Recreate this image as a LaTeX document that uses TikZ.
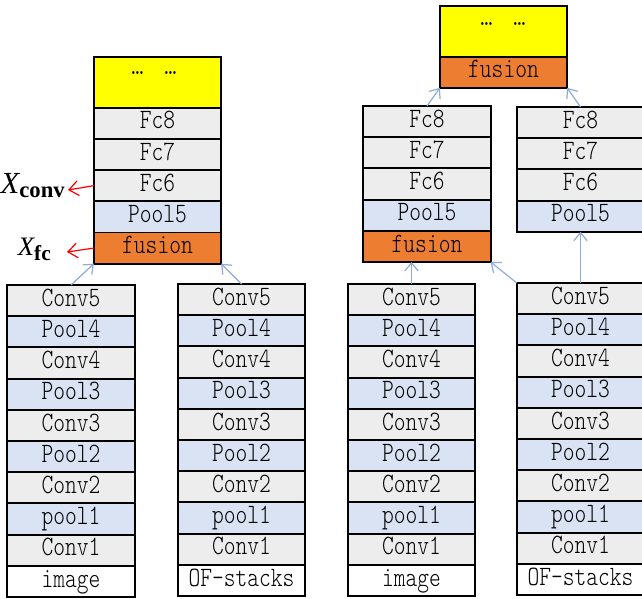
\documentclass[tikz,border=0pt]{standalone}
\usepackage{fontspec}
\newfontfamily\cellfont{Latin Modern Mono Light}[FakeStretch=0.8]
\newfontfamily\labelfont{Liberation Serif}
\usetikzlibrary{positioning,arrows.meta}

\definecolor{convgray}{HTML}{EDEDED}
\definecolor{poolblue}{HTML}{DAE3F3}
\definecolor{fuseorange}{HTML}{ED7D31}
\definecolor{headyellow}{HTML}{FFFF00}
\definecolor{feedblue}{HTML}{8EA9DB}
\definecolor{probered}{HTML}{FF0000}

\tikzset{
  cell/.style={draw=black, line width=1.4pt, minimum width=95.5pt,
    minimum height=23.4pt, inner sep=0pt, outer sep=0pt, anchor=north,
    font=\cellfont\fontsize{21}{23}\selectfont, text height=12pt, text depth=3.5pt},
  conv/.style={cell, fill=convgray},
  pool/.style={cell, fill=poolblue},
  fuse/.style={cell, fill=fuseorange},
  plain/.style={cell, fill=white},
  topbox/.style={cell, fill=headyellow, minimum height=38pt},
  dotsnote/.style={inner sep=0pt, font=\cellfont\fontsize{21}{21}\selectfont},
  feed/.style={draw=feedblue, line width=0.9pt, -{Straight Barb[length=6pt,width=10pt]}},
  probe/.style={draw=probered, line width=0.9pt, -{Straight Barb[length=7pt,width=11pt]}},
  outlabel/.style={inner sep=0pt, anchor=base east},
}

% one convolutional column: Conv5 at the top down to the input cell
\newcommand\lowerstack[4]{%
  \node[conv] (#1c5) at (#2,#3) {Conv5};
  \node[pool, below=0pt of #1c5] (#1p4) {Pool4};
  \node[conv, below=0pt of #1p4] (#1c4) {Conv4};
  \node[pool, below=0pt of #1c4] (#1p3) {Pool3};
  \node[conv, below=0pt of #1p3] (#1c3) {Conv3};
  \node[pool, below=0pt of #1c3] (#1p2) {Pool2};
  \node[conv, below=0pt of #1p2] (#1c2) {Conv2};
  \node[pool, below=0pt of #1c2] (#1p1) {pool1};
  \node[conv, below=0pt of #1p1] (#1c1) {Conv1};
  \node[plain, below=0pt of #1c1] (#1in) {#4};
}

\begin{document}
\begin{tikzpicture}[x=0.75pt, y=-0.75pt]
\useasboundingbox (0,0) rectangle (642,599);

% ---- left network: fusion after the conv layers
\node[topbox] (lhead) at (157.5,57) {};
\node[dotsnote] (ldots) at (154,73) {…\hspace{16pt}…};
\node[conv, below=0pt of lhead] (lfc8) {Fc8};
\node[conv, below=0pt of lfc8] (lfc7) {Fc7};
\node[conv, below=0pt of lfc7] (lfc6) {Fc6};
\node[pool, below=0pt of lfc6] (lpool5) {Pool5};
\node[fuse, below=0pt of lpool5] (lfuse) {fusion};

\lowerstack{a}{71}{285}{image}
\lowerstack{b}{241.5}{284}{OF-stacks}

\draw[feed] (ac5.north) -- (lfuse.south west);
\draw[feed] (bc5.north) -- (lfuse.south east);

% extracted features
\coordinate (convtip) at (68,190);
\coordinate (fctip) at (67,252);
\draw[probe] (lfc6.west) -- (convtip);
\draw[probe] (lfuse.west) -- (fctip);
\node[outlabel] (xconv) at (65,193)
  {\labelfont{\fontsize{23}{23}\selectfont\itshape X}\raisebox{-3pt}{\fontsize{17}{17}\selectfont\bfseries conv}};
\node[outlabel] (xfc) at (51,255)
  {\labelfont{\fontsize{20}{20}\selectfont\itshape X}\raisebox{-4pt}{\fontsize{16}{16}\selectfont\bfseries fc}};

% ---- right network: fusion after the fully connected layers
\node[topbox] (thead) at (503.5,6) {};
\node[dotsnote] (tdots) at (503,24) {…\hspace{16pt}…};
\node[fuse, below=0pt of thead] (tfuse) {fusion};

\node[conv] (rfc8) at (427,106) {Fc8};
\node[conv, below=0pt of rfc8] (rfc7) {Fc7};
\node[conv, below=0pt of rfc7] (rfc6) {Fc6};
\node[pool, below=0pt of rfc6] (rpool5) {Pool5};
\node[fuse, below=0pt of rpool5] (rfuse) {fusion};

\node[conv] (sfc8) at (580.5,107) {Fc8};
\node[conv, below=0pt of sfc8] (sfc7) {Fc7};
\node[conv, below=0pt of sfc7] (sfc6) {Fc6};
\node[pool, below=0pt of sfc6] (spool5) {Pool5};

\lowerstack{c}{411.5}{284}{image}
\lowerstack{d}{580.5}{283}{OF-stacks}

\draw[feed] (cc5.north) -- (cc5.north |- rfuse.south);
\draw[feed] (dc5.north west) -- (rfuse.south east);
\draw[feed] (dc5.north) -- (spool5.south);
\draw[feed] (rfc8.north) -- (tfuse.south west);
\draw[feed] (sfc8.north) -- (tfuse.south east);
\end{tikzpicture}
\end{document}
